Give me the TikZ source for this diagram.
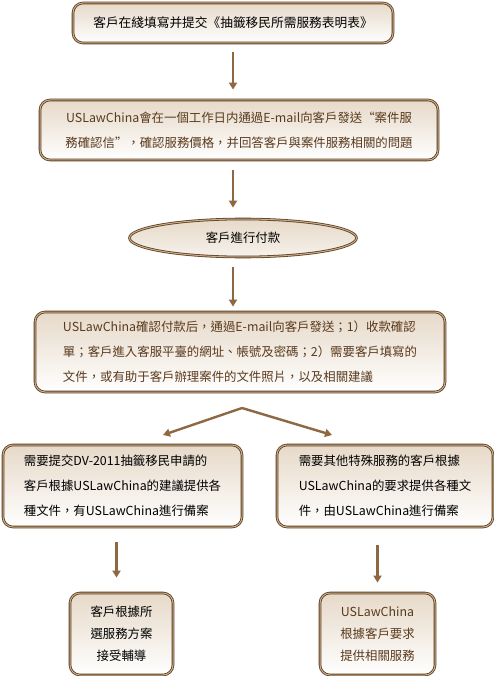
\documentclass[tikz,border=0pt]{standalone}
\usepackage{fontspec}
\setmainfont{Noto Sans CJK TC}
\usepackage{tikz}
\usetikzlibrary{arrows.meta,shapes.geometric}
\definecolor{bark}{HTML}{5E3F22}
\definecolor{tan}{HTML}{C9AE8C}
\definecolor{sand}{HTML}{E6D9C8}
\definecolor{twig}{HTML}{8E6840}
\definecolor{ink}{HTML}{5A3A1C}

\begin{document}
\begin{tikzpicture}[x=1pt,y=-1pt,
  bx/.style={draw=bark,double=tan,double distance=1pt,line width=0.8pt,rounded corners=10pt,top color=sand,middle color=white,bottom color=white,font=\fontsize{12.4}{25}\selectfont,inner sep=0pt,minimum width=#1},
  ov/.style={ellipse,draw=bark,double=tan,double distance=1pt,line width=0.8pt,top color=sand,bottom color=sand!35,font=\fontsize{12.4}{25}\selectfont,minimum width=227pt,minimum height=38pt,inner sep=0pt},
  lk/.style={-{Triangle[width=8pt,length=7pt]},line width=2.4pt,draw=twig}]
  \useasboundingbox (0,0) rectangle (494,676);
  \node[bx=320pt,minimum height=40pt,align=center,font=\fontsize{12.7}{25}\selectfont] (b1) at (233,23) {客戶在綫填寫并提交《抽籤移民所需服務表明表》};
  \node[bx=398pt,minimum height=60pt,align=center,text=ink] (b2) at (239,130) {USLawChina會在一個工作日内通過E-mail向客戶發送“案件服\\務確認信”，確認服務價格，并回答客戶與案件服務相關的問題};
  \node[ov] (pay) at (243,238) {客戶進行付款};
  \node[bx=410pt,minimum height=80pt,align=left,text=ink] (b4) at (240,352) {USLawChina確認付款后，通過E-mail向客戶發送；1）收款確認\\單；客戶進入客服平臺的網址、帳號及密碼；2）需要客戶填寫的\\文件，或有助于客戶辦理案件的文件照片，以及相關建議};
  \node[bx=239pt,minimum height=82pt,align=left] (b5) at (122.5,486) {需要提交DV-2011抽籤移民申請的\\客戶根據USLawChina的建議提供各\\種文件，有USLawChina進行備案};
  \node[bx=216pt,minimum height=82pt,align=left] (b6) at (385,486) {需要其他特殊服務的客戶根據\\USLawChina的要求提供各種文\\件，由USLawChina進行備案};
  \node[bx=103pt,minimum height=82pt,align=center,font=\fontsize{12.4}{22}\selectfont] (b7) at (121.5,634) {客戶根據所\\選服務方案\\接受輔導};
  \node[bx=115pt,minimum height=82pt,align=center,font=\fontsize{12.4}{22}\selectfont,text=ink] (b8) at (377.5,634) {USLawChina\\根據客戶要求\\提供相關服務};
  % connectors
  \draw[lk,shorten <=9pt,shorten >=10pt] (b1.south) -- (b1.south |- b2.north);
  \draw[lk,shorten <=10pt,shorten >=11pt] (b1.south |- b2.south) -- (b1.south |- pay.north);
  \draw[lk,shorten <=10pt,shorten >=5pt] (b1.south |- pay.south) -- (b1.south |- b4.north);
  \coordinate (fork) at (242,408);
  \coordinate (lt) at (163,435);
  \coordinate (rt) at (332,435);
  \draw[lk] (fork) -- (lt);
  \draw[lk] (fork) -- (rt);
  \draw[lk,shorten <=15pt,shorten >=15pt] ([xshift=-5pt]b7.north |- b5.south) -- ([xshift=-5pt]b7.north);
  \draw[lk,shorten <=18pt,shorten >=10pt] (b8.north |- b6.south) -- (b8.north);
\end{tikzpicture}
\end{document}
